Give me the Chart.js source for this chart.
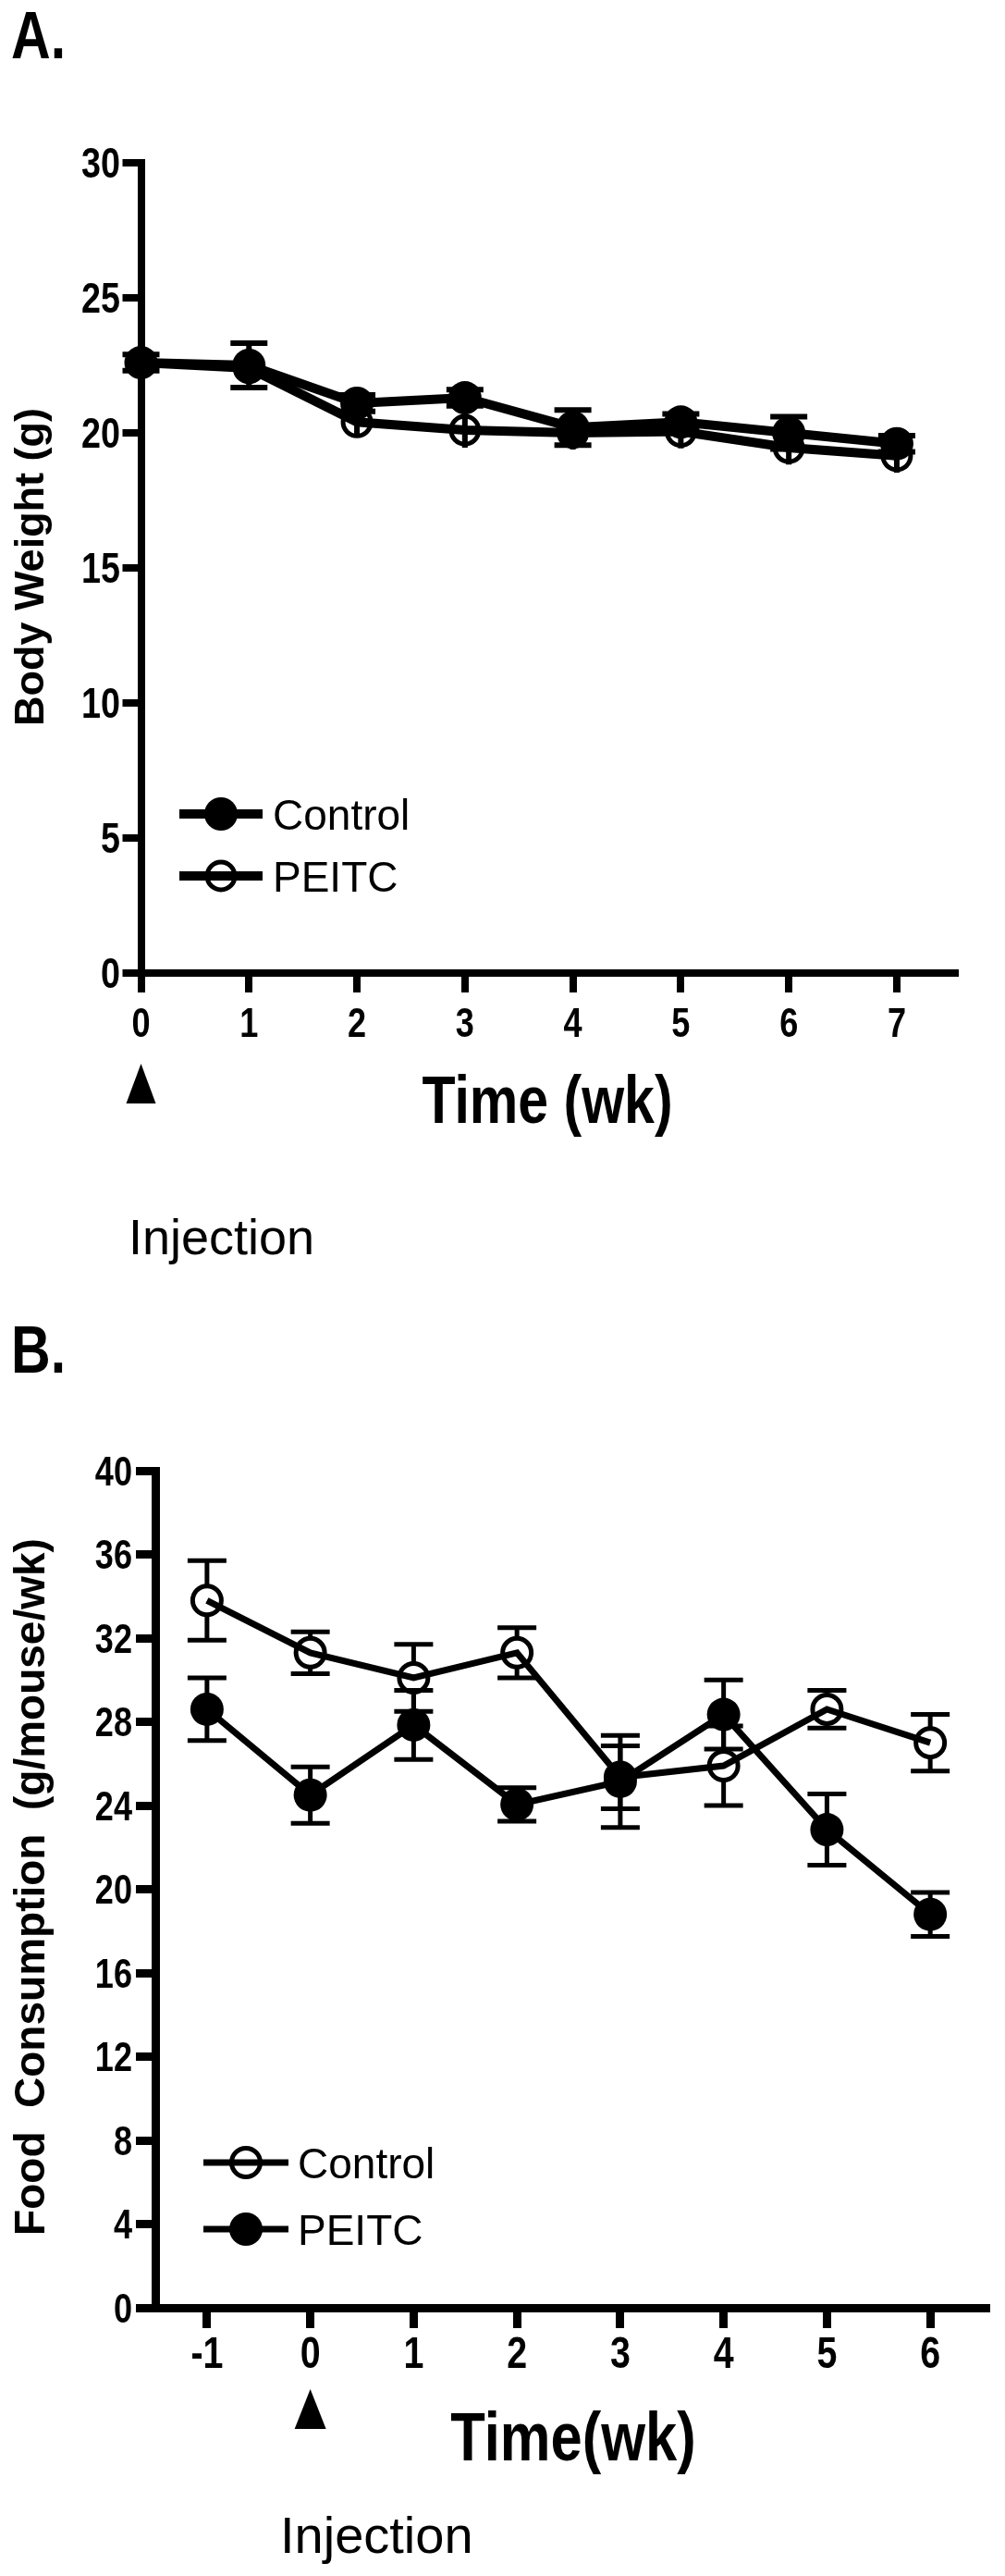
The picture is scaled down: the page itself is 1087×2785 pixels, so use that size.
<!DOCTYPE html>
<html>
<head>
<meta charset="utf-8">
<title>Body weight and food consumption</title>
<script src="https://cdn.jsdelivr.net/npm/chart.js@4.4.1/dist/chart.umd.min.js"></script>
<style>
  html, body { margin: 0; padding: 0; background: #fff; }
  body { width: 1087px; height: 2785px; position: relative; overflow: hidden; }
  canvas { position: absolute; left: 0; }
  #weightChart { top: 0; }
  #foodChart { top: 1380px; }
</style>
</head>
<body>
<canvas id="weightChart" width="1087" height="1380"></canvas>
<canvas id="foodChart" width="1087" height="1405"></canvas>
<script>
// A. body weight (g), mean and SEM per week
const bwWeeks = [0, 1, 2, 3, 4, 5, 6, 7]
const bwControl = [22.6, 22.5, 21.1, 21.3, 20.2, 20.4, 20.0, 19.6]
const bwControlSem = [0.3, 0.82, 0.3, 0.3, 0.65, 0.3, 0.6, 0.3]
const bwPeitc = [22.6, 22.4, 20.4, 20.1, 20.0, 20.05, 19.45, 19.15]
const bwPeitcSem = [0.4, 0.55, 0.55, 0.65, 0.62, 0.62, 0.62, 0.62]
const bwTicksX = [0, 1, 2, 3, 4, 5, 6, 7]
const bwTicksY = [0, 5, 10, 15, 20, 25, 30]

// B. food consumption (g/mouse/wk), mean and SEM per week
const fcWeeks = [-1, 0, 1, 2, 3, 4, 5, 6]
const fcControl = [33.8, 31.3, 30.1, 31.3, 25.35, 25.9, 28.6, 27.0]
const fcControlSem = [1.9, 1.0, 1.6, 1.2, 1.5, 1.9, 0.9, 1.35]
const fcPeitc = [28.6, 24.5, 27.85, 24.05, 25.15, 28.35, 22.85, 18.8]
const fcPeitcSem = [1.5, 1.35, 1.65, 0.8, 2.2, 1.65, 1.7, 1.05]
const fcTicksX = [-1, 0, 1, 2, 3, 4, 5, 6]
const fcTicksY = [0, 4, 8, 12, 16, 20, 24, 28, 32, 36, 40]

const injectionWeek = 0
const groupLabels = ['Control', 'PEITC']

// no narrow face installed, so bold sans is squeezed horizontally instead
const SANS = "'Liberation Sans', Arial, sans-serif"
const SQUEEZE = 0.82

const toPoints = (xs, ys) => xs.map((x, i) => ({ x, y: ys[i] }))

const drawText = (ctx, text, x, y, { font, align = 'left', squeeze = 1, rotate = 0 }) => {
  ctx.save()
  ctx.font = font
  ctx.textAlign = align
  ctx.textBaseline = 'alphabetic'
  ctx.translate(x, y)
  if (rotate) ctx.rotate(rotate)
  ctx.scale(squeeze, 1)
  ctx.fillText(text, 0, 0)
  ctx.restore()
}

// -------------------------

// plugins

const errorBars = {
  id: 'errorBars',
  beforeDatasetsDraw(chart, args, opts) {
    const { ctx } = chart
    const yScale = chart.scales.y
    ctx.save()
    ctx.strokeStyle = '#000'
    ctx.lineWidth = opts.width
    ctx.lineCap = 'butt'
    chart.data.datasets.forEach((ds, i) => {
      const meta = chart.getDatasetMeta(i)
      ds.data.forEach((p, j) => {
        const err = ds.sem[j]
        const xp = meta.data[j].x
        const yc = yScale.getPixelForValue(p.y)
        const yt = yScale.getPixelForValue(p.y + err)
        const yb = yScale.getPixelForValue(p.y - err)
        const gap = ds.errorGap
        ctx.beginPath()
        if (yc - gap > yt) {
          ctx.moveTo(xp, yt)
          ctx.lineTo(xp, yc - gap)
        }
        if (yc + gap < yb) {
          ctx.moveTo(xp, yc + gap)
          ctx.lineTo(xp, yb)
        }
        if (ds.errorCap > 0) {
          ctx.moveTo(xp - ds.errorCap, yt)
          ctx.lineTo(xp + ds.errorCap, yt)
          ctx.moveTo(xp - ds.errorCap, yb)
          ctx.lineTo(xp + ds.errorCap, yb)
        }
        ctx.stroke()
      })
    })
    ctx.restore()
  },
}

const insideLegend = {
  id: 'insideLegend',
  afterDatasetsDraw(chart, args, opts) {
    const { ctx } = chart
    ctx.save()
    chart.data.datasets.forEach((ds, i) => {
      const y = opts.rows[i]
      ctx.strokeStyle = '#000'
      ctx.lineWidth = ds.borderWidth
      ctx.beginPath()
      ctx.moveTo(opts.lineFrom, y)
      ctx.lineTo(opts.lineTo, y)
      ctx.stroke()

      ctx.fillStyle = ds.pointBackgroundColor
      ctx.strokeStyle = ds.pointBorderColor
      ctx.lineWidth = ds.pointBorderWidth
      Chart.helpers.drawPoint(
        ctx,
        { pointStyle: 'circle', radius: ds.pointRadius, borderWidth: ds.pointBorderWidth, rotation: 0 },
        (opts.lineFrom + opts.lineTo) / 2,
        y,
      )

      ctx.fillStyle = '#000'
      drawText(ctx, ds.label, opts.textX, y + opts.size * 0.36, { font: `${opts.size}px ${SANS}` })
    })
    ctx.restore()
  },
}

// tick labels in a condensed bold face, placed from the scales' own ticks
const narrowTicks = {
  id: 'narrowTicks',
  afterDraw(chart, args, opts) {
    const { ctx } = chart
    const { x, y } = chart.scales
    ctx.save()
    ctx.fillStyle = '#000'
    y.ticks.forEach((t) => {
      const py = y.getPixelForValue(t.value) + opts.ySize * 0.358
      drawText(ctx, String(t.value), opts.yRight, py, { font: `bold ${opts.ySize}px ${SANS}`, align: 'right', squeeze: SQUEEZE })
    })
    x.ticks.forEach((t) => {
      const px = x.getPixelForValue(t.value)
      drawText(ctx, String(t.value), px, opts.xBaseline, { font: `bold ${opts.xSize}px ${SANS}`, align: 'center', squeeze: SQUEEZE })
    })
    ctx.restore()
  },
}

const panelText = {
  id: 'panelText',
  afterDraw(chart, args, opts) {
    const { ctx } = chart
    const xScale = chart.scales.x

    // injection arrow under the x axis
    const ax = xScale.getPixelForValue(opts.arrowAt)
    ctx.save()
    ctx.fillStyle = '#000'
    ctx.beginPath()
    ctx.moveTo(ax, opts.arrowTop)
    ctx.lineTo(ax + opts.arrowHalf, opts.arrowBottom)
    ctx.lineTo(ax - opts.arrowHalf, opts.arrowBottom)
    ctx.closePath()
    ctx.fill()

    opts.items.forEach((t) => drawText(ctx, t.text, t.x, t.y, t))
    ctx.restore()
  },
}

// -------------------------

// shared axis config

const makeAxis = ({ min, max, ticks, fit, vertical, tickLength, lineWidth }) => ({
  type: 'linear',
  min,
  max,
  afterBuildTicks: (s) => {
    s.ticks = ticks.map((v) => ({ value: v }))
  },
  afterFit: (s) => {
    if (vertical) s.width = fit
    else s.height = fit
  },
  border: { display: true, color: '#000', width: lineWidth },
  grid: {
    drawOnChartArea: false,
    drawTicks: true,
    tickLength,
    tickWidth: lineWidth,
    tickColor: '#000',
    color: '#000',
    lineWidth,
  },
  ticks: { display: false },
})

const filledCircle = (radius) => ({
  pointStyle: 'circle',
  pointRadius: radius,
  pointHoverRadius: radius,
  pointBackgroundColor: '#000',
  pointBorderColor: '#000',
  pointBorderWidth: 0,
})

const openCircle = (radius, ring) => ({
  pointStyle: 'circle',
  pointRadius: radius,
  pointHoverRadius: radius,
  pointBackgroundColor: 'rgba(0,0,0,0)',
  pointBorderColor: '#000',
  pointBorderWidth: ring,
})

const baseOptions = {
  responsive: false,
  animation: false,
  events: [],
}

// A. Body weight

new Chart(document.getElementById('weightChart'), {
  type: 'line',
  data: {
    datasets: [
      {
        label: groupLabels[0],
        data: toPoints(bwWeeks, bwControl),
        borderColor: '#000',
        borderWidth: 10,
        tension: 0,
        clip: false,
        sem: bwControlSem,
        errorCap: 20,
        errorGap: 0,
        ...filledCircle(18),
      },
      {
        label: groupLabels[1],
        data: toPoints(bwWeeks, bwPeitc),
        borderColor: '#000',
        borderWidth: 10,
        tension: 0,
        clip: false,
        sem: bwPeitcSem,
        errorCap: 0,
        errorGap: 0,
        ...openCircle(15, 5),
      },
    ],
  },
  options: {
    ...baseOptions,
    layout: { padding: { top: 176, right: 54, left: 0, bottom: 0 } },
    scales: {
      x: makeAxis({ min: 0, max: 7.54, ticks: bwTicksX, fit: 328, vertical: false, tickLength: 21, lineWidth: 8 }),
      y: makeAxis({ min: 0, max: 30, ticks: bwTicksY, fit: 152.5, vertical: true, tickLength: 20, lineWidth: 8 }),
    },
    plugins: {
      legend: { display: false },
      tooltip: { enabled: false },
      errorBars: { width: 6 },
      narrowTicks: { ySize: 46, yRight: 130, xSize: 44, xBaseline: 1121 },
      insideLegend: { rows: [880, 947], lineFrom: 194, lineTo: 284, textX: 295, size: 46 },
      panelText: {
        arrowAt: injectionWeek,
        arrowTop: 1150,
        arrowBottom: 1193,
        arrowHalf: 16,
        items: [
          { text: 'A.', x: 12, y: 63, font: `bold 72px ${SANS}`, squeeze: SQUEEZE },
          { text: 'Body Weight (g)', x: 47, y: 613, align: 'center', rotate: -Math.PI / 2, font: `bold 45px ${SANS}` },
          { text: 'Time (wk)', x: 592, y: 1214, align: 'center', font: `bold 72px ${SANS}`, squeeze: SQUEEZE },
          { text: 'Injection', x: 139, y: 1356, font: `54px ${SANS}` },
        ],
      },
    },
  },
  plugins: [errorBars, insideLegend, narrowTicks, panelText],
})

// B. Food consumption

new Chart(document.getElementById('foodChart'), {
  type: 'line',
  data: {
    datasets: [
      {
        label: groupLabels[0],
        data: toPoints(fcWeeks, fcControl),
        borderColor: '#000',
        borderWidth: 7,
        tension: 0,
        clip: false,
        order: 1,
        sem: fcControlSem,
        errorCap: 21,
        errorGap: 17,
        ...openCircle(15.5, 5),
      },
      {
        label: groupLabels[1],
        data: toPoints(fcWeeks, fcPeitc),
        borderColor: '#000',
        borderWidth: 7,
        tension: 0,
        clip: false,
        order: 0,
        sem: fcPeitcSem,
        errorCap: 21,
        errorGap: 0,
        ...filledCircle(18),
      },
    ],
  },
  options: {
    ...baseOptions,
    layout: { padding: { top: 210, right: 13, left: 0, bottom: 0 } },
    scales: {
      x: makeAxis({ min: -1.5, max: 6.54, ticks: fcTicksX, fit: 290, vertical: false, tickLength: 22, lineWidth: 9 }),
      y: makeAxis({ min: 0, max: 40, ticks: fcTicksY, fit: 168, vertical: true, tickLength: 21, lineWidth: 9 }),
    },
    plugins: {
      legend: { display: false },
      tooltip: { enabled: false },
      errorBars: { width: 5 },
      narrowTicks: { ySize: 44, yRight: 143, xSize: 48, xBaseline: 1180 },
      insideLegend: { rows: [958, 1030], lineFrom: 220, lineTo: 312, textX: 322, size: 46 },
      panelText: {
        arrowAt: injectionWeek,
        arrowTop: 1203,
        arrowBottom: 1246,
        arrowHalf: 17,
        items: [
          { text: 'B.', x: 12, y: 104, font: `bold 72px ${SANS}`, squeeze: SQUEEZE },
          { text: 'Food  Consumption  (g/mouse/wk)', x: 48, y: 660, align: 'center', rotate: -Math.PI / 2, font: `bold 46px ${SANS}` },
          { text: 'Time(wk)', x: 620, y: 1280, align: 'center', font: `bold 75px ${SANS}`, squeeze: SQUEEZE },
          { text: 'Injection', x: 303, y: 1380, font: `56px ${SANS}` },
        ],
      },
    },
  },
  plugins: [errorBars, insideLegend, narrowTicks, panelText],
})
</script>
</body>
</html>
